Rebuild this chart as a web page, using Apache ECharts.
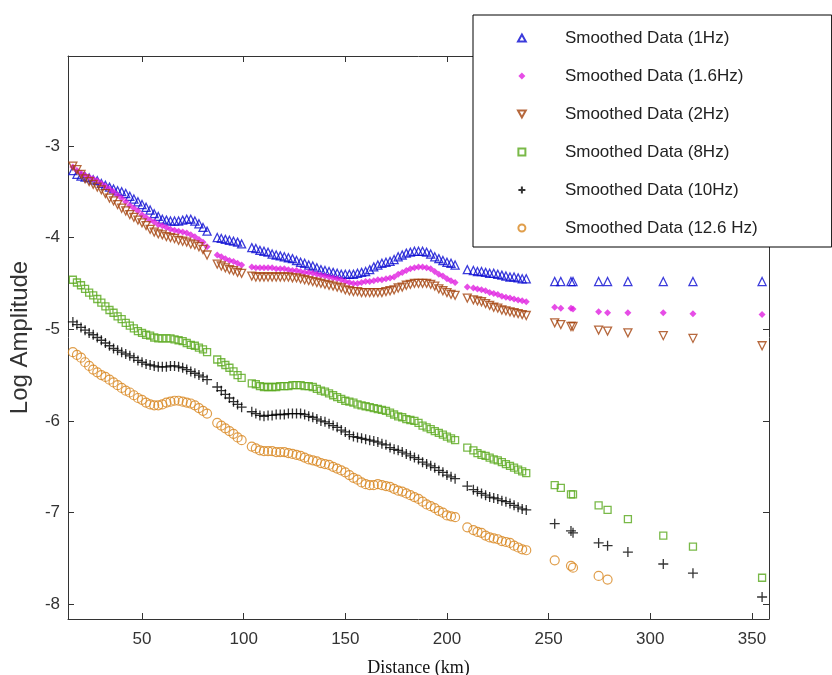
<!DOCTYPE html>
<html>
<head>
<meta charset="utf-8">
<script src="https://cdn.jsdelivr.net/npm/echarts@6/dist/echarts.min.js"></script>
<style>
  html, body { margin: 0; padding: 0; background: #fff; }
  #chart { width: 832px; height: 675px; }
</style>
</head>
<body>
<div id="chart"></div>
<script>
// distance of each station (km)
const distances = [16, 18, 20, 22, 24, 26, 28, 30, 32, 34, 36, 38, 40, 42, 44, 46, 48, 50, 52, 54, 56, 58, 60, 62, 64, 66, 68, 70, 72, 74, 76, 78, 80, 82,
  87, 89, 91, 93, 95, 97, 99,
  104, 106, 108, 110, 112, 114, 116, 118, 120, 122, 124, 126, 128, 130, 132, 134, 136, 138, 140, 142, 144, 146, 148, 150,
  152, 154, 156, 158, 160, 162, 164, 166, 168, 170, 172, 174, 176, 178, 180, 182, 184, 186, 188, 190, 192, 194, 196, 198, 200, 202,
  204, 210,
  213, 215, 217, 219, 221, 223, 225, 227, 229, 231, 233, 235, 237, 239,
  253, 256, 261, 262, 274.6, 279, 289, 306.4, 321, 355];

const amp1Hz = [-3.27, -3.31, -3.33, -3.34, -3.35, -3.37, -3.38, -3.41, -3.43, -3.45, -3.47, -3.49, -3.50, -3.52, -3.55, -3.58, -3.61, -3.64, -3.67, -3.70, -3.74, -3.77, -3.80, -3.81, -3.82, -3.82, -3.82, -3.81, -3.80, -3.80, -3.82, -3.85, -3.89, -3.93,
  -4.00, -4.01, -4.02, -4.03, -4.04, -4.05, -4.07,
  -4.11, -4.12, -4.14, -4.15, -4.16, -4.18, -4.19, -4.20, -4.21, -4.22, -4.23, -4.25, -4.27, -4.28, -4.30, -4.31, -4.33, -4.35, -4.36, -4.37, -4.38, -4.39, -4.40, -4.40,
  -4.40, -4.40, -4.39, -4.38, -4.37, -4.35, -4.32, -4.30, -4.28, -4.27, -4.26, -4.24, -4.21, -4.19, -4.17, -4.16, -4.15, -4.15, -4.15, -4.16, -4.18, -4.21, -4.23, -4.25, -4.27, -4.28,
  -4.30, -4.35,
  -4.36, -4.37, -4.37, -4.38, -4.39, -4.39, -4.40, -4.41, -4.42, -4.43, -4.43, -4.44, -4.45, -4.45,
  -4.48, -4.48, -4.48, -4.48, -4.48, -4.48, -4.48, -4.48, -4.48, -4.48];

const amp16Hz = [-3.23, -3.27, -3.30, -3.32, -3.34, -3.36, -3.38, -3.41, -3.44, -3.47, -3.50, -3.54, -3.57, -3.61, -3.65, -3.68, -3.71, -3.75, -3.78, -3.81, -3.83, -3.86, -3.87, -3.89, -3.91, -3.92, -3.93, -3.94, -3.95, -3.97, -3.99, -4.02, -4.05, -4.10,
  -4.19, -4.21, -4.23, -4.25, -4.26, -4.28, -4.30,
  -4.32, -4.33, -4.33, -4.33, -4.33, -4.33, -4.34, -4.34, -4.34, -4.35, -4.36, -4.36, -4.37, -4.38, -4.38, -4.39, -4.40, -4.41, -4.42, -4.43, -4.44, -4.45, -4.46, -4.48,
  -4.49, -4.50, -4.50, -4.49, -4.48, -4.48, -4.47, -4.46, -4.46, -4.45, -4.44, -4.43, -4.40, -4.38, -4.36, -4.34, -4.33, -4.32, -4.32, -4.33, -4.34, -4.37, -4.40, -4.42, -4.45, -4.47,
  -4.49, -4.54,
  -4.55, -4.56, -4.57, -4.58, -4.60, -4.61, -4.62, -4.64, -4.65, -4.66, -4.67, -4.68, -4.69, -4.70,
  -4.76, -4.77, -4.77, -4.78, -4.81, -4.82, -4.82, -4.82, -4.83, -4.84];

const amp2Hz = [-3.22, -3.26, -3.31, -3.36, -3.39, -3.42, -3.45, -3.48, -3.52, -3.57, -3.60, -3.64, -3.68, -3.71, -3.75, -3.78, -3.81, -3.84, -3.87, -3.91, -3.94, -3.96, -3.97, -3.99, -4.00, -4.01, -4.03, -4.04, -4.05, -4.07, -4.08, -4.10, -4.13, -4.19,
  -4.29, -4.31, -4.33, -4.35, -4.36, -4.38, -4.39,
  -4.42, -4.43, -4.43, -4.43, -4.43, -4.43, -4.43, -4.43, -4.43, -4.43, -4.44, -4.44, -4.45, -4.46, -4.47, -4.48, -4.49, -4.50, -4.51, -4.52, -4.53, -4.54, -4.55, -4.57,
  -4.58, -4.59, -4.59, -4.60, -4.60, -4.60, -4.60, -4.60, -4.60, -4.59, -4.58, -4.57, -4.55, -4.54, -4.52, -4.51, -4.50, -4.50, -4.50, -4.50, -4.51, -4.53, -4.56, -4.58, -4.60, -4.62,
  -4.63, -4.66,
  -4.68, -4.69, -4.70, -4.72, -4.74, -4.76, -4.77, -4.79, -4.80, -4.81, -4.82, -4.83, -4.84, -4.85,
  -4.93, -4.95, -4.97, -4.97, -5.01, -5.02, -5.04, -5.07, -5.10, -5.18];

const amp8Hz = [-4.46, -4.49, -4.52, -4.56, -4.60, -4.63, -4.67, -4.71, -4.75, -4.79, -4.82, -4.86, -4.89, -4.93, -4.96, -4.99, -5.02, -5.04, -5.06, -5.07, -5.09, -5.10, -5.10, -5.10, -5.10, -5.11, -5.12, -5.13, -5.15, -5.17, -5.18, -5.20, -5.22, -5.25,
  -5.33, -5.36, -5.39, -5.42, -5.46, -5.50, -5.53,
  -5.59, -5.60, -5.62, -5.63, -5.63, -5.63, -5.63, -5.62, -5.62, -5.62, -5.61, -5.61, -5.61, -5.62, -5.62, -5.63, -5.65, -5.67, -5.68, -5.70, -5.72, -5.74, -5.76, -5.78,
  -5.79, -5.80, -5.82, -5.83, -5.84, -5.85, -5.86, -5.87, -5.88, -5.89, -5.91, -5.93, -5.95, -5.96, -5.98, -5.99, -6.00, -6.02, -6.05, -6.07, -6.09, -6.11, -6.13, -6.15, -6.17, -6.19,
  -6.21, -6.29,
  -6.32, -6.35, -6.37, -6.38, -6.40, -6.42, -6.43, -6.45, -6.47, -6.49, -6.51, -6.53, -6.55, -6.57,
  -6.70, -6.73, -6.80, -6.80, -6.92, -6.97, -7.07, -7.25, -7.37, -7.71];

const amp10Hz = [-4.92, -4.95, -4.98, -5.01, -5.04, -5.06, -5.09, -5.12, -5.15, -5.18, -5.21, -5.23, -5.25, -5.27, -5.29, -5.31, -5.34, -5.36, -5.38, -5.39, -5.40, -5.41, -5.41, -5.41, -5.40, -5.40, -5.41, -5.42, -5.44, -5.46, -5.48, -5.50, -5.52, -5.55,
  -5.63, -5.67, -5.71, -5.75, -5.79, -5.82, -5.85,
  -5.90, -5.92, -5.94, -5.95, -5.94, -5.94, -5.93, -5.93, -5.93, -5.92, -5.92, -5.92, -5.92, -5.93, -5.95, -5.96, -5.98, -6.00, -6.01, -6.03, -6.05, -6.07, -6.10, -6.12,
  -6.15, -6.17, -6.18, -6.19, -6.20, -6.21, -6.22, -6.23, -6.25, -6.26, -6.29, -6.31, -6.32, -6.34, -6.36, -6.38, -6.40, -6.42, -6.45, -6.47, -6.49, -6.51, -6.54, -6.56, -6.59, -6.61,
  -6.63, -6.71,
  -6.75, -6.77, -6.79, -6.81, -6.83, -6.84, -6.85, -6.87, -6.88, -6.90, -6.92, -6.94, -6.96, -6.97,
  -7.12, null, -7.20, -7.22, -7.33, -7.36, -7.43, -7.56, -7.66, -7.92];

const amp126Hz = [-5.25, -5.28, -5.31, -5.36, -5.40, -5.44, -5.47, -5.50, -5.52, -5.55, -5.58, -5.61, -5.64, -5.67, -5.69, -5.72, -5.75, -5.77, -5.80, -5.82, -5.83, -5.83, -5.82, -5.80, -5.79, -5.78, -5.78, -5.79, -5.80, -5.81, -5.83, -5.86, -5.89, -5.92,
  -6.02, -6.05, -6.08, -6.11, -6.14, -6.18, -6.21,
  -6.28, -6.30, -6.32, -6.33, -6.33, -6.33, -6.34, -6.34, -6.34, -6.35, -6.36, -6.37, -6.38, -6.40, -6.42, -6.43, -6.44, -6.46, -6.47, -6.48, -6.50, -6.52, -6.54, -6.56,
  -6.59, -6.62, -6.64, -6.67, -6.69, -6.70, -6.70, -6.69, -6.70, -6.71, -6.72, -6.74, -6.76, -6.77, -6.79, -6.81, -6.83, -6.85, -6.88, -6.91, -6.93, -6.95, -6.98, -7.00, -7.03, -7.04,
  -7.05, -7.16,
  -7.19, -7.21, -7.22, -7.25, -7.27, -7.28, -7.29, -7.31, -7.32, -7.33, -7.36, -7.38, -7.40, -7.41,
  -7.52, null, -7.58, -7.60, -7.69, -7.73, null, null, null, null];

const seriesNames = ['Smoothed Data (1Hz)', 'Smoothed Data (1.6Hz)', 'Smoothed Data (2Hz)',
  'Smoothed Data (8Hz)', 'Smoothed Data (10Hz)', 'Smoothed Data (12.6 Hz)'];

function pairs(vals) {
  const out = [];
  vals.forEach((v, i) => {
    if (v !== null) out.push([distances[i], v]);
  });
  return out;
}

const fontSans = 'Liberation Sans';
const axisColor = '#333';

// marker shapes as paths so the legend keeps their aspect
const SYM_TRI = 'path://M5,0 L10,9 L0,9 Z';
const SYM_TRI_DOWN = 'path://M0,0 L10,0 L5,9 Z';
const SYM_DIAMOND = 'path://M5,0 L10,5 L5,10 L0,5 Z';
const SYM_SQUARE = 'path://M0,0 L10,0 L10,10 L0,10 Z';
const SYM_PLUS = 'path://M5,0 L5,10 M0,5 L10,5';

// hollow marker helper
function hollow(name, vals, symbol, size, color, bw) {
  return {
    name,
    type: 'scatter',
    data: pairs(vals),
    symbol,
    symbolSize: size,
    itemStyle: { color: 'rgba(255,255,255,0)', borderColor: color, borderWidth: bw || 1.2 }
  };
}

const chart = echarts.init(document.getElementById('chart'), null, { renderer: 'canvas' });

const baseX = { type: 'value', min: 13.6, max: 358.4, splitNumber: 7 };
const baseY = { type: 'value', min: -8.16, max: -2.02, splitNumber: 6 };

const option = {
  backgroundColor: '#fff',
  animation: false,
  grid: { left: 68, top: 56, right: 63, bottom: 56, outerBoundsMode: 'none', containLabel: false },
  legend: {
    orient: 'vertical',
    left: 473,
    top: 15,
    padding: [13, 74, 9, 44],
    itemWidth: 8,
    itemHeight: 7,
    itemGap: 18,
    backgroundColor: '#fff',
    borderColor: '#000',
    borderWidth: 1,
    textStyle: { fontFamily: fontSans, fontSize: 17, color: '#222', lineHeight: 20, padding: [0, 0, 0, 34] },
    data: seriesNames
  },
  xAxis: [
    Object.assign({}, baseX, {
      position: 'bottom',
      name: 'Distance (km)',
      nameLocation: 'middle',
      nameGap: 40,
      nameTextStyle: { fontFamily: 'Liberation Serif', fontSize: 18, color: '#111' },
      axisLine: { lineStyle: { color: axisColor, width: 1 } },
      axisTick: { inside: true, length: 6, lineStyle: { color: axisColor } },
      axisLabel: { showMinLabel: false, showMaxLabel: false, fontFamily: fontSans, fontSize: 17, color: '#333', margin: 12 },
      splitLine: { show: false }
    }),
    Object.assign({}, baseX, {
      position: 'top',
      axisLine: { lineStyle: { color: axisColor, width: 1 } },
      axisTick: { inside: true, length: 6, lineStyle: { color: axisColor } },
      axisLabel: { show: false },
      splitLine: { show: false }
    })
  ],
  yAxis: [
    Object.assign({}, baseY, {
      position: 'left',
      name: 'Log Amplitude',
      nameLocation: 'middle',
      nameGap: 36,
      nameTextStyle: { fontFamily: fontSans, fontSize: 24, color: '#333' },
      axisLine: { show: true, lineStyle: { color: axisColor, width: 1 } },
      axisTick: { show: true, inside: true, length: 6, lineStyle: { color: axisColor } },
      axisLabel: { showMinLabel: false, showMaxLabel: false, fontFamily: fontSans, fontSize: 17, color: '#333', margin: 8 },
      splitLine: { show: false }
    }),
    Object.assign({}, baseY, {
      position: 'right',
      axisLine: { show: true, lineStyle: { color: axisColor, width: 1 } },
      axisTick: { show: true, inside: true, length: 6, lineStyle: { color: axisColor } },
      axisLabel: { show: false },
      splitLine: { show: false }
    })
  ],
  series: [
    hollow(seriesNames[0], amp1Hz, SYM_TRI, 8, '#0a0ad2', 1.3),
    {
      name: seriesNames[1],
      type: 'scatter',
      data: pairs(amp16Hz),
      symbol: SYM_DIAMOND,
      symbolSize: 7,
      itemStyle: { color: '#e020e0' }
    },
    hollow(seriesNames[2], amp2Hz, SYM_TRI_DOWN, 8, '#a4420c', 1.3),
    hollow(seriesNames[3], amp8Hz, SYM_SQUARE, 7, '#58a81a', 1.3),
    hollow(seriesNames[4], amp10Hz, SYM_PLUS, 10, '#000', 1.3),
    hollow(seriesNames[5], amp126Hz, 'circle', 9, '#d8861e', 1.2)
  ]
};

chart.setOption(option);
</script>
</body>
</html>
